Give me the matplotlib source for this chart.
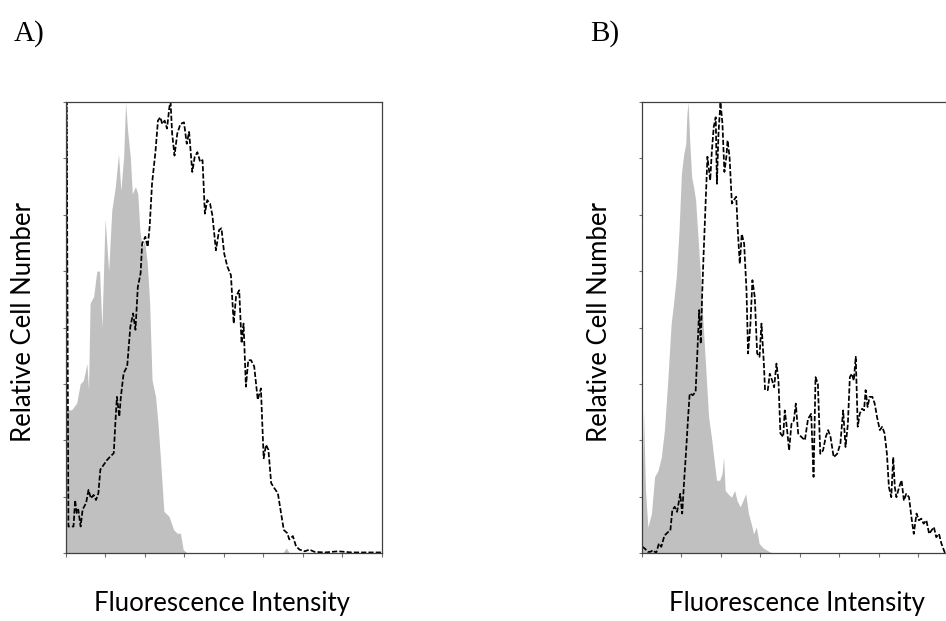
import matplotlib.pyplot as plt

# Panel A: control (grey filled) and stained (dashed) histograms
a_ctrl_x = [0.0, 0.06, 0.14, 0.27, 0.36, 0.44, 0.53, 0.57, 0.61, 0.70, 0.78, 0.85,
            0.91, 0.99, 1.08, 1.16, 1.25, 1.33, 1.39, 1.46, 1.51, 1.56, 1.63, 1.68,
            1.76, 1.82, 1.87, 1.93, 1.99, 2.06, 2.12, 2.18, 2.27, 2.33, 2.39, 2.48,
            2.61, 2.73, 2.82, 2.90, 2.97, 3.07, 5.50, 5.58, 5.66, 8.0]
a_ctrl_y = [2.60, 2.54, 2.54, 2.66, 3.00, 3.06, 3.36, 2.90, 4.43, 4.55, 5.00, 5.00,
            4.00, 5.93, 5.00, 6.08, 6.50, 7.08, 6.43, 7.02, 8.00, 7.50, 7.02, 6.37,
            6.50, 6.37, 5.73, 5.43, 5.55, 5.14, 4.43, 3.07, 2.77, 2.30, 1.71, 0.74,
            0.65, 0.41, 0.35, 0.35, 0.06, 0.0, 0.0, 0.09, 0.0, 0.0]

a_stain_x = [0.0, 0.01, 0.06, 0.12, 0.19, 0.23, 0.27, 0.31, 0.37, 0.42, 0.51, 0.57,
             0.63, 0.70, 0.76, 0.82, 0.87, 0.95, 1.04, 1.12, 1.21, 1.25, 1.29, 1.35,
             1.39, 1.46, 1.55, 1.63, 1.70, 1.76, 1.82, 1.89, 1.93, 2.01, 2.07, 2.12,
             2.18, 2.27, 2.33, 2.39, 2.44, 2.50, 2.56, 2.62, 2.65, 2.69, 2.75, 2.82,
             2.90, 2.99, 3.06, 3.12, 3.20, 3.26, 3.33, 3.40, 3.46, 3.52, 3.58, 3.65,
             3.71, 3.80, 3.88, 3.94, 4.01, 4.09, 4.18, 4.25, 4.31, 4.39, 4.45, 4.50,
             4.56, 4.62, 4.69, 4.77, 4.86, 4.94, 5.01, 5.07, 5.13, 5.20, 5.28, 5.37,
             5.45, 5.52, 5.61, 5.66, 5.75, 5.83, 5.92, 6.05, 6.17, 6.30, 6.56, 6.90,
             7.24, 8.0]
a_stain_y = [0.0, 9.0, 0.47, 0.47, 0.47, 0.94, 0.71, 0.77, 0.47, 0.77, 0.89, 1.12,
             0.97, 1.03, 0.94, 1.06, 1.48, 1.56, 1.65, 1.71, 1.77, 2.30, 2.77, 2.42,
             2.77, 3.19, 3.31, 4.01, 4.25, 3.96, 4.72, 4.96, 5.49, 5.61, 5.43, 5.79,
             6.55, 7.14, 7.67, 7.73, 7.61, 7.67, 7.53, 7.91, 8.00, 7.44, 7.05, 7.44,
             7.61, 7.64, 7.26, 7.47, 6.76, 7.02, 7.11, 6.94, 6.97, 6.02, 6.26, 6.20,
             5.99, 5.37, 5.73, 5.76, 5.31, 5.08, 4.93, 4.07, 4.55, 4.66, 3.72, 4.07,
             2.95, 3.42, 3.42, 3.31, 2.72, 2.92, 1.68, 1.92, 1.83, 1.24, 1.15, 1.06,
             0.71, 0.41, 0.35, 0.24, 0.30, 0.12, 0.06, 0.03, 0.06, 0.02, 0.01, 0.03,
             0.01, 0.01]

# Panel B
b_ctrl_x = [0.0, 0.04, 0.09, 0.15, 0.24, 0.32, 0.41, 0.49, 0.57, 0.66, 0.74, 0.80,
            0.87, 0.94, 1.00, 1.06, 1.11, 1.14, 1.17, 1.21, 1.26, 1.31, 1.36, 1.42,
            1.48, 1.55, 1.64, 1.69, 1.76, 1.82, 1.89, 1.97, 2.03, 2.07, 2.11, 2.18,
            2.27, 2.35, 2.41, 2.49, 2.56, 2.63, 2.70, 2.77, 2.83, 2.90, 2.97, 3.07,
            3.24, 3.32, 8.0]
b_ctrl_y = [1.00, 2.53, 1.11, 0.46, 0.70, 1.35, 1.47, 1.70, 2.18, 3.12, 4.07, 4.42,
            4.90, 5.72, 6.73, 7.08, 7.26, 7.79, 8.00, 7.32, 6.67, 6.49, 6.26, 5.61,
            4.96, 4.07, 3.00, 2.41, 2.06, 1.70, 1.29, 1.29, 1.41, 1.70, 1.11, 1.05,
            0.99, 1.11, 0.93, 0.82, 0.93, 1.05, 0.70, 0.52, 0.34, 0.46, 0.17, 0.09,
            0.02, 0.0, 0.0]

b_stain_x = [0.01, 0.07, 0.15, 0.21, 0.28, 0.36, 0.43, 0.49, 0.57, 0.66, 0.72, 0.77,
             0.83, 0.89, 0.94, 0.97, 1.02, 1.07, 1.12, 1.17, 1.21, 1.29, 1.36, 1.40,
             1.45, 1.49, 1.53, 1.56, 1.61, 1.66, 1.70, 1.73, 1.77, 1.82, 1.87, 1.90,
             1.94, 1.99, 2.04, 2.09, 2.14, 2.17, 2.22, 2.28, 2.33, 2.39, 2.43, 2.48,
             2.53, 2.59, 2.65, 2.69, 2.75, 2.80, 2.86, 2.92, 2.98, 3.03, 3.09, 3.12,
             3.19, 3.24, 3.30, 3.35, 3.41, 3.46, 3.51, 3.58, 3.62, 3.68, 3.73, 3.79,
             3.85, 3.90, 3.96, 4.04, 4.13, 4.21, 4.29, 4.35, 4.40, 4.46, 4.52, 4.59,
             4.66, 4.72, 4.78, 4.86, 4.95, 5.03, 5.10, 5.16, 5.22, 5.27, 5.32, 5.37,
             5.42, 5.47, 5.52, 5.58, 5.63, 5.67, 5.72, 5.77, 5.84, 5.90, 5.96, 6.03,
             6.09, 6.15, 6.21, 6.26, 6.32, 6.37, 6.41, 6.45, 6.52, 6.58, 6.64, 6.70,
             6.77, 6.83, 6.89, 6.96, 7.02, 7.08, 7.14, 7.21, 7.28, 7.34, 7.40, 7.46,
             7.53, 7.59, 7.68]
b_stain_y = [0.11, 0.08, 0.02, 0.02, 0.05, 0.00, 0.17, 0.11, 0.31, 0.37, 0.40, 0.76,
             0.82, 0.73, 0.93, 1.05, 0.70, 1.29, 1.82, 2.41, 2.83, 2.80, 2.86, 3.48,
             4.31, 3.71, 4.66, 5.25, 6.14, 7.03, 6.79, 6.61, 7.11, 7.56, 7.73, 6.55,
             7.44, 8.00, 7.62, 6.76, 7.03, 7.32, 7.03, 6.20, 6.26, 6.32, 5.72, 5.13,
             5.66, 5.49, 4.66, 3.54, 4.07, 4.84, 4.54, 3.54, 3.48, 4.07, 3.36, 2.89,
             2.89, 3.18, 3.06, 2.94, 3.36, 3.06, 2.12, 2.06, 2.53, 2.18, 1.82, 2.29,
             2.35, 2.65, 2.12, 2.06, 2.00, 2.38, 2.47, 1.35, 3.12, 3.00, 1.76, 1.82,
             2.06, 2.18, 2.06, 1.70, 1.76, 1.94, 2.53, 1.88, 2.29, 3.12, 3.18, 3.06,
             3.48, 2.24, 2.47, 2.56, 2.53, 2.89, 2.59, 2.77, 2.77, 2.65, 2.41, 2.18,
             2.24, 2.12, 1.76, 1.17, 0.99, 1.70, 1.17, 0.99, 1.17, 1.29, 0.93, 1.05,
             0.99, 0.64, 0.34, 0.70, 0.58, 0.61, 0.52, 0.58, 0.34, 0.40, 0.46, 0.28,
             0.34, 0.17, 0.00]

panels = [
    ("A)", a_ctrl_x, a_ctrl_y, a_stain_x, a_stain_y, 0.0698),
    ("B)", b_ctrl_x, b_ctrl_y, b_stain_x, b_stain_y, 0.6786),
]

fig = plt.figure(figsize=(9.46, 6.21), dpi=100)
label_font = "Lato"
spine_col = "#404040"

for letter, cx, cy, sx, sy, left in panels:
    ax = fig.add_axes([left, 0.1095, 0.3336, 0.7262])
    ax.fill_between(cx, cy, 0, color="#c0c0c0", linewidth=0)
    ax.plot(sx, sy, color="black", lw=1.25, dashes=(3.0, 1.2))
    ax.set_xlim(0, 8)
    ax.set_ylim(0, 8)
    ax.set_xticks(range(9))
    ax.set_yticks(range(9))
    ax.set_xticklabels([])
    ax.set_yticklabels([])
    ax.tick_params(axis="x", length=3, width=0.8, color="#707070")
    ax.tick_params(axis="y", length=2.5, width=0.8, color="#707070")
    for s in ax.spines.values():
        s.set_color(spine_col)
        s.set_linewidth(0.9)
    # axis titles placed in figure coordinates
    fig.text(left + 0.1668 - 0.0025, 0.016, "Fluorescence Intensity", fontsize=18.5,
             family=label_font, ha="center", va="baseline")
    fig.text(left - 0.045, 0.481, "Relative Cell Number", fontsize=18.5,
             family=label_font, rotation=90, ha="center", va="center")
    fig.text(left - 0.055, 0.935, letter, fontsize=21, family="Liberation Serif",
             ha="left", va="baseline")

fig.savefig("out.png", dpi=100)
